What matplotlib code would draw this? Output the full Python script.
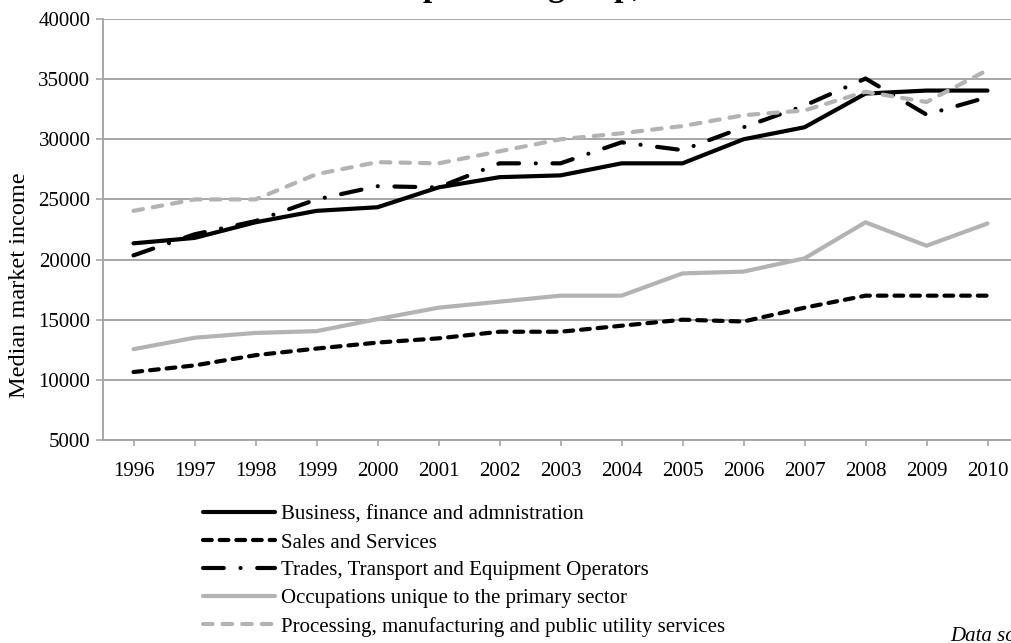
import numpy as np
import matplotlib.pyplot as plt

plt.rcParams['font.family'] = ['Liberation Serif', 'DejaVu Serif']

years = ['1996', '1997', '1998', '1999', '2000', '2001', '2002', '2003',
         '2004', '2005', '2006', '2007', '2008', '2009', '2010']

business = [21350, 21800, 23100, 24050, 24350, 26000, 26850, 27000,
            28000, 28000, 30000, 31000, 33800, 34050, 34050]
sales = [10650, 11200, 12050, 12600, 13100, 13450, 14000, 14000,
         14500, 15000, 14850, 16000, 17000, 17000, 17000]
trades = [20350, 22100, 23200, 25000, 26100, 26000, 28000, 28000,
          29750, 29100, 31000, 32800, 35050, 32050, 33500]
primary = [12550, 13500, 13900, 14050, 15050, 16000, 16500, 17000,
           17000, 18850, 19000, 20100, 23100, 21150, 23000]
processing = [24050, 25000, 25000, 27100, 28100, 28000, 29000, 30000,
              30500, 31100, 32000, 32400, 33950, 33100, 35750]

labels = ['Business, finance and admnistration',
          'Sales and Services',
          'Trades, Transport and Equipment Operators',
          'Occupations unique to the primary sector',
          'Processing, manufacturing and public utility services']

W, H = 1011, 643
fs = 15
fig = plt.figure(figsize=(W / 100, H / 100), dpi=100)
# plot area runs a little past the right edge, as in the original
ax = fig.add_axes([103 / W, 1 - 440 / H, 915 / W, 421 / H])

x = np.arange(len(years))
lw = 3.0
gray = '#b3b3b3'
ax.plot(x, business, color='black', lw=lw, solid_capstyle='round', label=labels[0])
ax.plot(x, sales, color='black', lw=lw, dashes=(2.1, 1.9), dash_capstyle='round', label=labels[1])
ax.plot(x, trades, color='black', lw=lw, dashes=(5.0, 4.0, 0.01, 4.0), dash_capstyle='round', label=labels[2])
ax.plot(x, primary, color=gray, lw=lw, solid_capstyle='round', label=labels[3])
ax.plot(x, processing, color=gray, lw=lw, dashes=(2.3, 2.4), dash_capstyle='round', label=labels[4])

ax.set_xlim(-0.5, len(years) - 0.5)
ax.set_ylim(5000, 40000)
ax.set_yticks(np.arange(5000, 40001, 5000))
ax.set_xticks(x)
ax.set_xticklabels(years)

gridc = '#a6a6a6'
ax.grid(axis='y', color=gridc, lw=1.4)
ax.set_axisbelow(True)
for s in ['top', 'right']:
    ax.spines[s].set_visible(False)
for s in ['left', 'bottom']:
    ax.spines[s].set_color(gridc)
    ax.spines[s].set_linewidth(1.4)
ax.tick_params(axis='y', direction='out', length=5, width=1.2, color=gridc,
               labelsize=fs, pad=4)
ax.tick_params(axis='x', direction='out', length=4, width=1.2, color=gridc,
               labelsize=fs, pad=12)

ax.set_ylabel('Median market income', fontsize=17.5)
ax.yaxis.set_label_coords(-0.080, 0.368)

fig.legend(loc='upper left', bbox_to_anchor=(203 / W, 1 - 505 / H),
           frameon=False, fontsize=fs, handlelength=3.45, handletextpad=0.3,
           labelspacing=0.4, borderpad=0, borderaxespad=0)

# title sits mostly above the cropped top edge; only descenders show
title = 'Median market income for each occupational group, 1996-2010'
prefix = 'Median market income for each occu'
r = fig.canvas.get_renderer()
tmp = fig.text(0, 0, prefix, fontsize=24, fontweight='bold')
wpre = tmp.get_window_extent(r).width
tmp.remove()
fig.text((423 - wpre) / W, 1 + 4 / H, title,
         ha='left', va='baseline', fontsize=24, fontweight='bold')

fig.text(950 / W, 2 / H, 'Data source: Statistics Canada', fontsize=fs,
         style='italic', ha='left', va='baseline')

fig.savefig('out.png', dpi=100)
